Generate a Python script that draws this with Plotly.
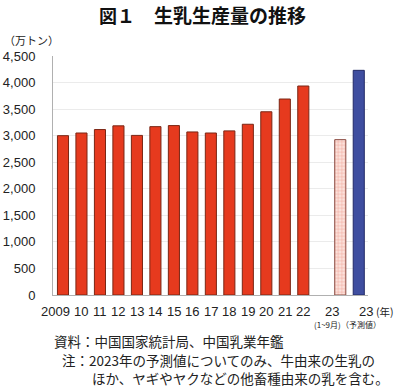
import plotly.graph_objects as go

# ---- data ----
year_labels = ["2009", "10", "11", "12", "13", "14", "15", "16", "17", "18", "19", "20", "21", "22"]
production = [3000, 3050, 3115, 3185, 3005, 3170, 3190, 3070, 3050, 3090, 3215, 3450, 3690, 3935]
partial_label = "23"
partial_2023 = [2925]          # 2023 (1~9月)
forecast_label = "23"
forecast_2023 = [4230]         # 2023 (予測値)
y_ticks = [0, 500, 1000, 1500, 2000, 2500, 3000, 3500, 4000, 4500]

# ---- positions (one empty slot between 22 and 23) ----
x_years = list(range(len(year_labels)))
x_partial = [len(year_labels) + 1]
x_forecast = [len(year_labels) + 2]

W, H = 400, 391
L, R, T, B = 53, 32, 56, 96
pw, ph = W - L - R, H - T - B

def px(x):
    return (x - L) / pw

def py(y):
    return (H - B - y) / ph

LAT = "Liberation Sans, Arial, Noto Sans CJK JP, sans-serif"
JP = "Noto Sans CJK JP, sans-serif"

fig = go.Figure()
fig.add_bar(x=x_years, y=production, width=0.6,
            marker=dict(color="#e63a1e", line=dict(color="#7a2614", width=1)),
            showlegend=False, hoverinfo="skip")
fig.add_bar(x=x_partial, y=partial_2023, width=0.6,
            marker=dict(color="#fbd6cf",
                        line=dict(color="#8a4a40", width=1),
                        pattern=dict(shape="+", fgcolor="#e8705e", bgcolor="#fbe2dc",
                                     size=3.5, solidity=0.3)),
            showlegend=False, hoverinfo="skip")
fig.add_bar(x=x_forecast, y=forecast_2023, width=0.6,
            marker=dict(color="#3f4ea0", line=dict(color="#222a66", width=1)),
            showlegend=False, hoverinfo="skip")

tickvals = x_years + x_partial + x_forecast
ticktext = year_labels + [partial_label, forecast_label]

fig.update_layout(
    width=W, height=H,
    margin=dict(l=L, r=R, t=T, b=B),
    paper_bgcolor="white", plot_bgcolor="white",
    font=dict(family=LAT, color="#222"),
    xaxis=dict(range=[-0.54, 16.5], tickvals=tickvals, ticktext=ticktext,
               showticklabels=False, automargin=False,
               showgrid=False, showline=True, linecolor="#b0b0b0", linewidth=1,
               ticks="", zeroline=False),
    yaxis=dict(range=[0, 4500], tickvals=y_ticks, tickformat=",",
               tickfont=dict(size=13, family=LAT, color="#222"),
               showgrid=True, gridcolor="#ebebeb", gridwidth=1, automargin=False,
               showline=True, linecolor="#b0b0b0", linewidth=1,
               ticks="", zeroline=False, ticklabelstandoff=14),
)

ann = []
# x-axis category labels, placed at the bar positions on the x scale
label_shift = [-7] + [0] * (len(year_labels) - 1) + [-8, 7]
for xv, t, s in zip(tickvals, ticktext, label_shift):
    ann.append(dict(text=t, x=xv, y=py(311), xref="x", yref="paper",
                    xanchor="center", yanchor="middle", showarrow=False, xshift=s,
                    font=dict(size=13, family=LAT, color="#222")))
ann.append(dict(text="<b>図１</b>", x=px(97), y=py(14.5), xref="paper", yref="paper",
                xanchor="left", yanchor="middle", showarrow=False,
                font=dict(size=18, family=JP, color="#111")))
ann.append(dict(text="<b>生乳生産量の推移</b>", x=px(152), y=py(14.5), xref="paper", yref="paper",
                xanchor="left", yanchor="middle", showarrow=False,
                font=dict(size=19, family=JP, color="#111")))
ann.append(dict(text="（万トン）", x=px(2), y=py(40), xref="paper", yref="paper",
                xanchor="left", yanchor="middle", showarrow=False,
                font=dict(size=11, family=JP, color="#222")))
ann.append(dict(text="(1~9月)", x=x_partial[0], y=py(324), xref="x", yref="paper",
                xanchor="center", yanchor="middle", showarrow=False, xshift=-13,
                font=dict(size=8, family=JP, color="#222")))
ann.append(dict(text="（予測値）", x=x_forecast[0], y=py(324), xref="x", yref="paper",
                xanchor="center", yanchor="middle", showarrow=False, xshift=2,
                font=dict(size=8, family=JP, color="#222")))
ann.append(dict(text="(年)", x=x_forecast[0], y=py(311), xref="x", yref="paper",
                xanchor="left", yanchor="middle", showarrow=False, xshift=15,
                font=dict(size=10.5, family=JP, color="#222")))
ann.append(dict(text="資料：中国国家統計局、中国乳業年鑑", x=px(52), y=py(341), xref="paper", yref="paper",
                xanchor="left", yanchor="middle", showarrow=False,
                font=dict(size=13.5, family=JP, color="#222")))
ann.append(dict(text="注：2023年の予測値についてのみ、牛由来の生乳の", x=px(60), y=py(360), xref="paper", yref="paper",
                xanchor="left", yanchor="middle", showarrow=False,
                font=dict(size=13.5, family=JP, color="#222")))
ann.append(dict(text="ほか、ヤギやヤクなどの他畜種由来の乳を含む。", x=px(90), y=py(378), xref="paper", yref="paper",
                xanchor="left", yanchor="middle", showarrow=False,
                font=dict(size=13.5, family=JP, color="#222")))
fig.update_layout(annotations=ann)

fig.write_html("out.html", config={"displayModeBar": False},
               post_script="document.body.style.margin='0';document.body.style.overflow='hidden';")
